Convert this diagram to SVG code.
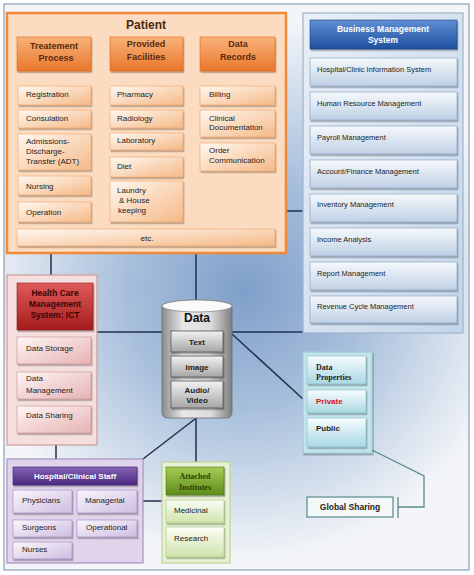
<svg xmlns="http://www.w3.org/2000/svg" width="474" height="575" viewBox="0 0 474 575">
<defs>
<radialGradient id="bg" gradientUnits="userSpaceOnUse" cx="245" cy="290" r="270">
<stop offset="0" stop-color="#7f9fca"/><stop offset="0.45" stop-color="#a9c0dc"/><stop offset="1" stop-color="#f3f5f8"/>
</radialGradient>
<linearGradient id="orItem" x1="0" y1="0" x2="1" y2="1"><stop offset="0" stop-color="#fff8f1"/><stop offset="1" stop-color="#f5b987"/></linearGradient>
<linearGradient id="orHead" x1="0" y1="0" x2="0" y2="1"><stop offset="0" stop-color="#f9b27a"/><stop offset="1" stop-color="#e9772b"/></linearGradient>
<linearGradient id="bmsPanel" x1="0" y1="0" x2="1" y2="1"><stop offset="0" stop-color="#e8eff8"/><stop offset="1" stop-color="#c4d5e9"/></linearGradient>
<linearGradient id="bmsItem" x1="0" y1="0" x2="0" y2="1"><stop offset="0" stop-color="#f6f9fc"/><stop offset="1" stop-color="#bfd0e5"/></linearGradient>
<linearGradient id="bmsHead" x1="0" y1="0" x2="0" y2="1"><stop offset="0" stop-color="#5f8fd4"/><stop offset="1" stop-color="#1f4f9e"/></linearGradient>
<linearGradient id="redHead" x1="0" y1="0" x2="0" y2="1"><stop offset="0" stop-color="#e05a5a"/><stop offset="1" stop-color="#a51c1c"/></linearGradient>
<linearGradient id="redItem" x1="0" y1="0" x2="1" y2="1"><stop offset="0" stop-color="#fff6f6"/><stop offset="1" stop-color="#e6b2b2"/></linearGradient>
<linearGradient id="cyl" x1="0" y1="0" x2="1" y2="0"><stop offset="0" stop-color="#8c8c8c"/><stop offset="0.3" stop-color="#e8e8e8"/><stop offset="0.7" stop-color="#dcdcdc"/><stop offset="1" stop-color="#7e7e7e"/></linearGradient>
<linearGradient id="cylItem" x1="0" y1="0" x2="0" y2="1"><stop offset="0" stop-color="#f2f2f2"/><stop offset="1" stop-color="#a6a6a6"/></linearGradient>
<linearGradient id="tealItem" x1="0" y1="0" x2="0" y2="1"><stop offset="0" stop-color="#f7fcfd"/><stop offset="1" stop-color="#a9d8e3"/></linearGradient>
<linearGradient id="purHead" x1="0" y1="0" x2="0" y2="1"><stop offset="0" stop-color="#8463b4"/><stop offset="1" stop-color="#4b2a80"/></linearGradient>
<linearGradient id="purItem" x1="0" y1="0" x2="1" y2="1"><stop offset="0" stop-color="#faf7fc"/><stop offset="1" stop-color="#cdbde0"/></linearGradient>
<linearGradient id="grnHead" x1="0" y1="0" x2="0" y2="1"><stop offset="0" stop-color="#a6cc55"/><stop offset="1" stop-color="#5e8c1c"/></linearGradient>
<linearGradient id="grnItem" x1="0" y1="0" x2="0" y2="1"><stop offset="0" stop-color="#fbfdf6"/><stop offset="1" stop-color="#cfe3ab"/></linearGradient>
<filter id="ds" x="-10%" y="-10%" width="130%" height="140%"><feDropShadow dx="1" dy="1.5" stdDeviation="0.7" flood-color="#000" flood-opacity="0.35"/></filter>
<style>
text{font-family:"Liberation Sans",Arial,sans-serif;fill:#1e1e1e;font-size:8px}
.b{font-weight:bold}
.c{text-anchor:middle}
.serif{font-family:"Liberation Serif","Times New Roman",serif;font-weight:bold}
.con{stroke:#1f3150;stroke-width:1.5;fill:none}
.gs{stroke:#5b8b8b;stroke-width:1.3;fill:none}
.orI{fill:url(#orItem);stroke:#f0a062;stroke-width:0.6;filter:url(#ds)}
.orH{fill:url(#orHead);stroke:#d86a20;stroke-width:0.6;filter:url(#ds)}
.orH + text, .orHt{fill:#5a2a0c;font-weight:bold;font-size:9px;text-anchor:middle}
.bI{fill:url(#bmsItem);stroke:#8ea6c2;stroke-width:0.7;filter:url(#ds)}
.rI{fill:url(#redItem);stroke:#c98c8c;stroke-width:0.6;filter:url(#ds)}
.cI{fill:url(#cylItem);stroke:#555;stroke-width:0.8;filter:url(#ds)}
.tI{fill:url(#tealItem);stroke:#7fb7c5;stroke-width:0.6;filter:url(#ds)}
.pI{fill:url(#purItem);stroke:#9c86bb;stroke-width:0.6;filter:url(#ds)}
.gI{fill:url(#grnItem);stroke:#a8c67a;stroke-width:0.6;filter:url(#ds)}
</style>
</defs>

<rect x="4" y="4" width="465" height="566" fill="url(#bg)" stroke="#8c9eb3" stroke-width="1.2"/>

<g id="connectors">
<line class="con" x1="196" y1="253" x2="196" y2="302"/>
<line class="con" x1="51" y1="253" x2="51" y2="275"/>
<line class="con" x1="286" y1="211" x2="303" y2="211"/>
<line class="con" x1="97" y1="332" x2="303" y2="332"/>
<line class="con" x1="232" y1="334" x2="303" y2="399"/>
<line class="con" x1="196" y1="418" x2="196" y2="462"/>
<line class="con" x1="195" y1="419" x2="143" y2="459"/>
<line class="con" x1="56" y1="445" x2="56" y2="459"/>
<line class="con" x1="143" y1="501" x2="162" y2="501"/>
<polyline class="gs" points="366,447 424,476 424,507 398,507"/>
<line class="gs" x1="398" y1="497" x2="398" y2="518"/>
</g>

<g id="patient">
<rect x="7" y="13" width="279" height="240" fill="#fcdcc1" stroke="#ef8a3a" stroke-width="2.5"/>
<text class="b c" x="146" y="29" font-size="12" style="font-size:12px;fill:#4a2a10">Patient</text>
<g id="treatment-process">
<rect class="orH" x="17" y="37" width="74" height="34"/>
<text class="orHt" x="54" y="49">Treatement</text><text class="orHt" x="56" y="61">Process</text>
<rect class="orI" x="18" y="86" width="73" height="19"/><text x="26" y="97">Registration</text>
<rect class="orI" x="18" y="110" width="73" height="18"/><text x="26" y="121">Consulation</text>
<rect class="orI" x="18" y="134" width="73" height="36"/><text x="26" y="144">Admissions-</text><text x="26" y="154">Discharge-</text><text x="26" y="163.5">Transfer (ADT)</text>
<rect class="orI" x="18" y="176" width="73" height="19"/><text x="26" y="189">Nursing</text>
<rect class="orI" x="18" y="202" width="73" height="20"/><text x="26" y="215">Operation</text>
</g>
<g id="provided-facilities">
<rect class="orH" x="110" y="37" width="73" height="34"/>
<text class="orHt" x="146" y="47">Provided</text><text class="orHt" x="146" y="60">Facilities</text>
<rect class="orI" x="110" y="86" width="73" height="19"/><text x="117" y="97">Pharmacy</text>
<rect class="orI" x="110" y="110" width="73" height="18"/><text x="117" y="121">Radiology</text>
<rect class="orI" x="110" y="133" width="73" height="17"/><text x="117" y="143">Laboratory</text>
<rect class="orI" x="110" y="157" width="73" height="20"/><text x="117" y="169">Diet</text>
<rect class="orI" x="110" y="181" width="73" height="41"/><text x="117" y="193">Laundry</text><text x="119" y="202.5">&amp; House</text><text x="118" y="213">keeping</text>
</g>
<g id="data-records">
<rect class="orH" x="200" y="37" width="75" height="34"/>
<text class="orHt" x="238" y="47">Data</text><text class="orHt" x="238" y="60">Records</text>
<rect class="orI" x="200" y="86" width="75" height="19"/><text x="209" y="97">Billing</text>
<rect class="orI" x="200" y="110" width="75" height="27"/><text x="209" y="121">Clinical</text><text x="209" y="130">Documentation</text>
<rect class="orI" x="200" y="143" width="75" height="28"/><text x="209" y="153">Order</text><text x="209" y="163">Communication</text>
</g>
<rect class="orI" x="17" y="229" width="258" height="17"/><text class="c" x="147" y="241">etc.</text>
</g>

<g id="business-management">
<rect x="303" y="13" width="160" height="320" fill="url(#bmsPanel)" stroke="#9fb3ca" stroke-width="1.2"/>
<rect x="310" y="20" width="147" height="29" fill="url(#bmsHead)" stroke="#1c3f7e" stroke-width="0.6" filter="url(#ds)"/>
<text class="b c" x="383" y="32" style="fill:#fff;font-size:8.5px">Business Management</text>
<text class="b c" x="383" y="43" style="fill:#fff;font-size:8.5px">System</text>
<rect class="bI" x="310" y="58" width="147" height="28"/><text x="317" y="72" style="font-size:7.5px">Hospital/Clinic Information System</text>
<rect class="bI" x="310" y="92" width="147" height="28"/><text x="317" y="106" style="font-size:7.5px">Human Resource Management</text>
<rect class="bI" x="310" y="126" width="147" height="28"/><text x="317" y="140" style="font-size:7.5px">Payroll Management</text>
<rect class="bI" x="310" y="160" width="147" height="28"/><text x="317" y="174" style="font-size:7.5px">Account/Finance Management</text>
<rect class="bI" x="310" y="194" width="147" height="28"/><text x="317" y="207" style="font-size:7.5px">Inventory Management</text>
<rect class="bI" x="310" y="228" width="147" height="28"/><text x="317" y="242" style="font-size:7.5px">Income Analysis</text>
<rect class="bI" x="310" y="262" width="147" height="28"/><text x="317" y="276" style="font-size:7.5px">Report Management</text>
<rect class="bI" x="310" y="296" width="147" height="27"/><text x="317" y="309" style="font-size:7.5px">Revenue Cycle Management</text>
</g>

<g id="ict">
<rect x="7" y="275" width="90" height="170" fill="#f4dede" stroke="#cf9a9a" stroke-width="1.2"/>
<rect x="17" y="283" width="76" height="47" fill="url(#redHead)" stroke="#8a1414" stroke-width="0.6" filter="url(#ds)"/>
<text class="b c" x="55" y="296" style="fill:#3a0606;font-size:8.5px">Health Care</text>
<text class="b c" x="55" y="307" style="fill:#3a0606;font-size:8.5px">Management</text>
<text class="b c" x="55" y="318" style="fill:#3a0606;font-size:8.5px">System: ICT</text>
<rect class="rI" x="17" y="337" width="74" height="27"/><text x="26" y="351">Data Storage</text>
<rect class="rI" x="17" y="372" width="74" height="27"/><text x="26" y="381">Data</text><text x="26" y="393">Management</text>
<rect class="rI" x="17" y="406" width="74" height="27"/><text x="26" y="418">Data Sharing</text>
</g>

<g id="data">
<path d="M162,306 A35,6 0 0 1 232,306 L232,412 Q232,418 226,418 L168,418 Q162,418 162,412 Z" fill="url(#cyl)" stroke="#6a6a6a" stroke-width="0.8"/>
<ellipse cx="197" cy="306" rx="35" ry="6" fill="#fafafa" stroke="#8a8a8a" stroke-width="0.8"/>
<text class="b c" x="197" y="322" style="font-size:12px;fill:#111">Data</text>
<rect class="cI" x="171" y="331" width="52" height="21"/><text class="b c" x="197" y="345">Text</text>
<rect class="cI" x="171" y="356" width="52" height="21"/><text class="b c" x="197" y="370">Image</text>
<rect class="cI" x="171" y="381" width="52" height="27"/><text class="b c" x="197" y="393">Audio/</text><text class="b c" x="197" y="403">Video</text>
</g>

<g id="data-properties">
<rect x="303" y="352" width="69" height="101" fill="#c4e4ec" stroke="#9fcbd7" stroke-width="1.2" filter="url(#ds)"/>
<rect class="tI" x="307" y="356" width="59" height="28"/>
<text class="serif" x="316" y="370">Data</text><text class="serif" x="316" y="380">Properties</text>
<rect class="tI" x="307" y="390" width="59" height="23"/><text class="b" x="316" y="404" style="fill:#d81414">Private</text>
<rect class="tI" x="307" y="418" width="59" height="29"/><text class="b" x="316" y="431">Public</text>
</g>

<g id="global-sharing">
<rect x="307" y="497" width="86" height="20" fill="#f5f8f8" stroke="#5b8b8b" stroke-width="1.2"/>
<text class="b c" x="350" y="510" style="font-size:8.5px">Global Sharing</text>
</g>

<g id="hospital-staff">
<rect x="7" y="459" width="136" height="104" fill="#e0d4ea" stroke="#a592c0" stroke-width="1.2"/>
<rect x="13" y="467" width="124" height="18" fill="url(#purHead)" stroke="#3e2070" stroke-width="0.6" filter="url(#ds)"/>
<text class="b c" x="75" y="479" style="fill:#fff">Hospital/Clinical Staff</text>
<rect class="pI" x="13" y="490" width="59" height="23"/><text x="22" y="503">Physicians</text>
<rect class="pI" x="77" y="490" width="60" height="23"/><text x="85" y="503">Managerial</text>
<rect class="pI" x="13" y="520" width="59" height="17"/><text x="22" y="530">Surgeons</text>
<rect class="pI" x="77" y="520" width="60" height="17"/><text x="86" y="530">Operational</text>
<rect class="pI" x="13" y="542" width="59" height="17"/><text x="22" y="552">Nurses</text>
</g>

<g id="attached-institutes">
<rect x="162" y="462" width="68" height="101" fill="#e8f1d4" stroke="#bcd596" stroke-width="1.2"/>
<rect x="166" y="467" width="58" height="28" fill="url(#grnHead)" stroke="#4c7414" stroke-width="0.6" filter="url(#ds)"/>
<text class="serif c" x="195" y="479" style="fill:#2a4208">Attached</text>
<text class="serif c" x="195" y="490" style="fill:#2a4208">Institutes</text>
<rect class="gI" x="166" y="500" width="58" height="23"/><text x="174" y="513">Medicinal</text>
<rect class="gI" x="166" y="527" width="58" height="30"/><text x="174" y="541">Research</text>
</g>
</svg>
